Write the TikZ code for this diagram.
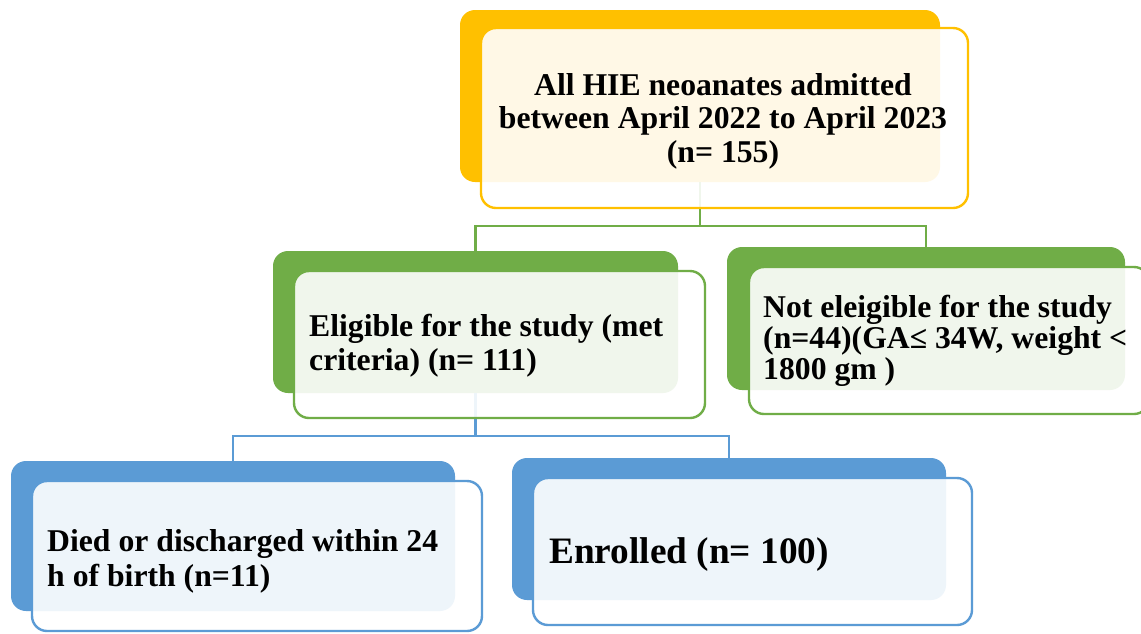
\documentclass[tikz,border=0pt]{standalone}
\usepackage{fontspec}
\setmainfont{Liberation Serif}
\definecolor{cyel}{HTML}{FFC000}
\definecolor{cgrn}{HTML}{70AD47}
\definecolor{cblu}{HTML}{5B9BD5}
\begin{document}
\begin{tikzpicture}[x=1pt,y=-1pt,
  back/.style={rectangle, rounded corners=15pt, inner sep=0pt, outer sep=0pt, anchor=north west, fill=#1, draw=none},
  front/.style={rectangle, rounded corners=15pt, inner sep=0pt, outer sep=0pt, anchor=north west, fill=white, fill opacity=0.9, draw=#1, line width=2.4pt},
  conn/.style={draw=#1, line width=2.6pt},
  txt/.style={inner sep=0pt, text=black, font=\fontsize{31.7}{33.5}\selectfont\bfseries}]
\useasboundingbox (0,0) rectangle (1141,633);
\fill[white] (0,0) rectangle (1141,633);
% back boxes
\node[back=cyel, minimum width=480pt, minimum height=172pt] (topB) at (460,10) {};
\node[back=cgrn, minimum width=405pt, minimum height=142pt] (gL) at (273,251) {};
\node[back=cgrn, minimum width=398pt, minimum height=143pt] (gR) at (727,247) {};
\node[back=cblu, minimum width=444pt, minimum height=150pt] (bL) at (11,461) {};
\node[back=cblu, minimum width=434pt, minimum height=142pt] (bR) at (512,458) {};
% connectors
\coordinate (j1) at (700,226);
\coordinate (j2) at (475.5,436);
\draw[conn=cgrn] (topB.south) -- (j1) -| (gL.north);
\draw[conn=cgrn] (j1) -| (gR.north);
\draw[conn=cblu] (gL.south) -- (j2) -| (bL.north);
\draw[conn=cblu] (j2) -| (bR.north);
% front boxes
\node[front=cyel, minimum width=487pt, minimum height=180pt] (topF) at (481,28) {};
\node[front=cgrn, minimum width=411pt, minimum height=147pt] (gLF) at (294,271) {};
\node[front=cgrn, minimum width=400pt, minimum height=147pt] (gRF) at (749,267) {};
\node[front=cblu, minimum width=450pt, minimum height=150pt] (bLF) at (32,481) {};
\node[front=cblu, minimum width=439pt, minimum height=147pt] (bRF) at (533,478) {};
% texts (base anchor = baseline of last line)
\node[txt, align=center, anchor=base] (t1) at (723,162) {All HIE neoanates admitted\\between April 2022 to April 2023\\(n= 155)};
\node[txt, align=left, anchor=base west] (t2) at (309,370) {Eligible for the study (met\\criteria) (n= 111)};
\node[txt, align=left, anchor=base west, font=\fontsize{31.7}{31}\selectfont\bfseries] (t3) at (763,379) {Not eleigible for the study\\(n=44)(GA≤ 34W, weight <\\1800 gm )};
\node[txt, align=left, anchor=base west, font=\fontsize{31.7}{35}\selectfont\bfseries] (t4) at (47,586) {Died or discharged within 24\\h of birth (n=11)};
\node[txt, anchor=base west, font=\fontsize{37.3}{40}\selectfont\bfseries] (t5) at (549,563) {Enrolled (n= 100)};
\end{tikzpicture}
\end{document}
